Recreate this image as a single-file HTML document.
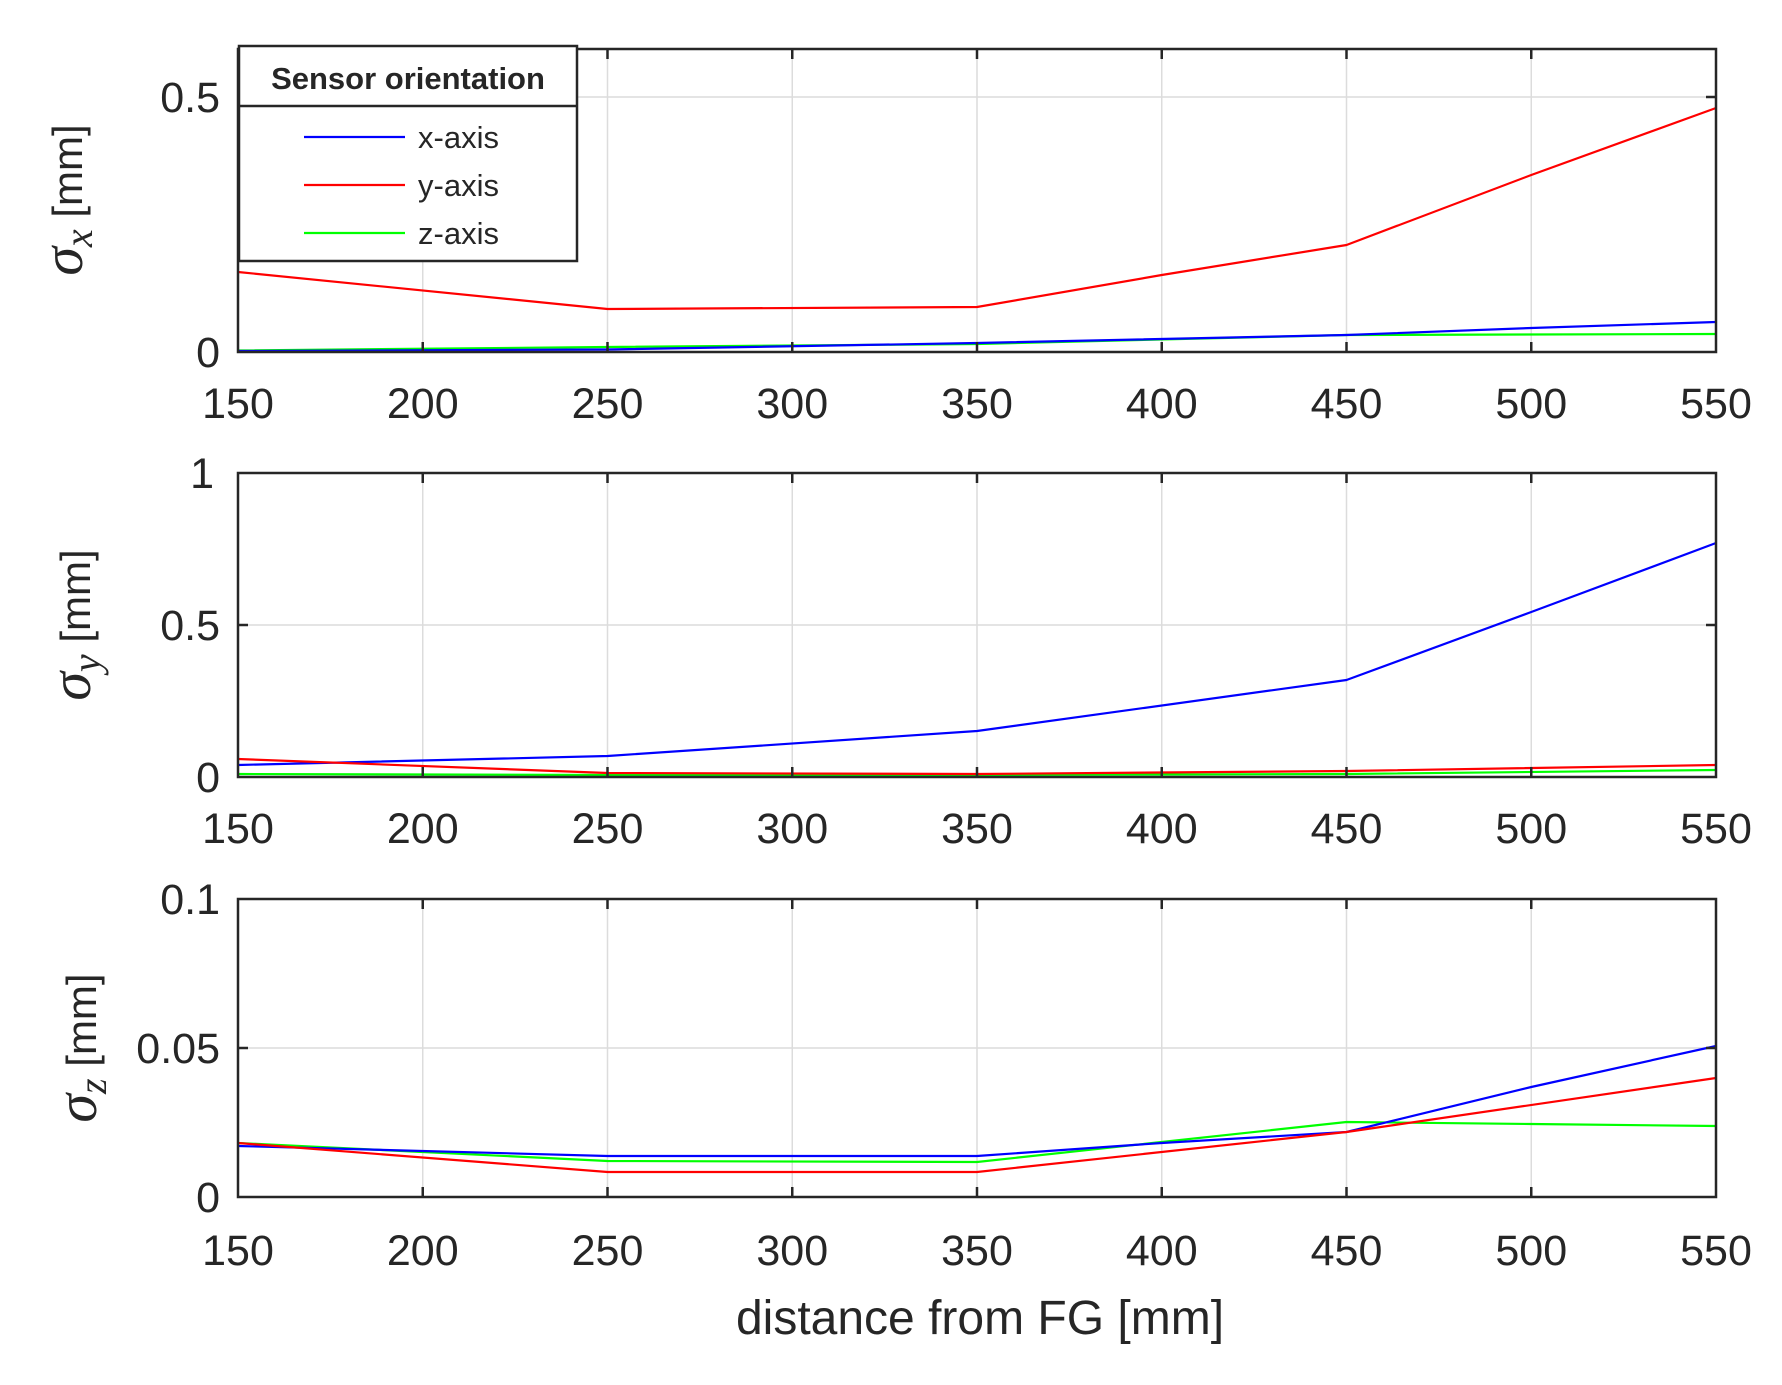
<!DOCTYPE html>
<html><head><meta charset="utf-8"><style>
html,body{margin:0;padding:0;background:#fff}
svg{display:block}
text{font-family:"Liberation Sans",sans-serif;fill:#262626}
</style></head><body>
<svg width="1782" height="1385" viewBox="0 0 1782 1385" xmlns="http://www.w3.org/2000/svg">
<!-- Panel 1 -->
<g>
<g stroke="#dcdcdc" stroke-width="1.5">
<line x1="422.75" y1="49" x2="422.75" y2="352"/><line x1="607.5" y1="49" x2="607.5" y2="352"/><line x1="792.25" y1="49" x2="792.25" y2="352"/><line x1="977" y1="49" x2="977" y2="352"/><line x1="1161.75" y1="49" x2="1161.75" y2="352"/><line x1="1346.5" y1="49" x2="1346.5" y2="352"/><line x1="1531.25" y1="49" x2="1531.25" y2="352"/>
<line x1="238" y1="97" x2="1716" y2="97"/>
</g>
<g fill="none" stroke-width="2.2" stroke-linejoin="round">
<polyline stroke="#00ff00" points="238,350.5 607.5,347 977,344 1346.5,335 1716,334"/>
<polyline stroke="#0000ff" points="238,351 607.5,349.5 977,343 1346.5,335 1531.25,328 1716,322"/>
<polyline stroke="#ff0000" points="238,272 607.5,309 977,307 1161.75,275 1346.5,245 1531.25,175 1716,108"/>
</g>
<g stroke="#262626" stroke-width="2.5">
<line x1="422.75" y1="352" x2="422.75" y2="342"/><line x1="607.5" y1="352" x2="607.5" y2="342"/><line x1="792.25" y1="352" x2="792.25" y2="342"/><line x1="977" y1="352" x2="977" y2="342"/><line x1="1161.75" y1="352" x2="1161.75" y2="342"/><line x1="1346.5" y1="352" x2="1346.5" y2="342"/><line x1="1531.25" y1="352" x2="1531.25" y2="342"/>
<line x1="607.5" y1="49" x2="607.5" y2="59"/><line x1="792.25" y1="49" x2="792.25" y2="59"/><line x1="977" y1="49" x2="977" y2="59"/><line x1="1161.75" y1="49" x2="1161.75" y2="59"/><line x1="1346.5" y1="49" x2="1346.5" y2="59"/><line x1="1531.25" y1="49" x2="1531.25" y2="59"/>
<line x1="1716" y1="97" x2="1706" y2="97"/><line x1="238" y1="97" x2="248" y2="97"/>
</g>
<rect x="238" y="49" width="1478" height="303" fill="none" stroke="#262626" stroke-width="2.5"/>
<g font-size="43" text-anchor="end"><text x="220" y="112">0.5</text><text x="220" y="367">0</text></g>
<g font-size="43" text-anchor="middle">
<text x="238" y="418">150</text><text x="422.75" y="418">200</text><text x="607.5" y="418">250</text><text x="792.25" y="418">300</text><text x="977" y="418">350</text><text x="1161.75" y="418">400</text><text x="1346.5" y="418">450</text><text x="1531.25" y="418">500</text><text x="1716" y="418">550</text>
</g>
<text transform="translate(82,200) rotate(-90)" font-size="42" text-anchor="middle"><tspan font-style="italic" font-family="Liberation Serif,serif" font-size="58">σ</tspan><tspan font-style="italic" font-family="Liberation Serif,serif" font-size="40" dy="10">x</tspan><tspan dy="-10">   [mm]</tspan></text>
<!-- legend -->
<rect x="239" y="46" width="338" height="215" fill="#fff" stroke="#262626" stroke-width="2.5"/>
<line x1="239" y1="106" x2="577" y2="106" stroke="#262626" stroke-width="2.5"/>
<text x="408" y="89" font-size="31" font-weight="bold" text-anchor="middle">Sensor orientation</text>
<line x1="304" y1="137" x2="405" y2="137" stroke="#0000ff" stroke-width="2.2"/>
<line x1="304" y1="185" x2="405" y2="185" stroke="#ff0000" stroke-width="2.2"/>
<line x1="304" y1="233" x2="405" y2="233" stroke="#00ff00" stroke-width="2.2"/>
<g font-size="31"><text x="418" y="148">x-axis</text><text x="418" y="196">y-axis</text><text x="418" y="244">z-axis</text></g>
</g>

<!-- Panel 2 -->
<g>
<g stroke="#dcdcdc" stroke-width="1.5">
<line x1="422.75" y1="473" x2="422.75" y2="777"/><line x1="607.5" y1="473" x2="607.5" y2="777"/><line x1="792.25" y1="473" x2="792.25" y2="777"/><line x1="977" y1="473" x2="977" y2="777"/><line x1="1161.75" y1="473" x2="1161.75" y2="777"/><line x1="1346.5" y1="473" x2="1346.5" y2="777"/><line x1="1531.25" y1="473" x2="1531.25" y2="777"/>
<line x1="238" y1="625" x2="1716" y2="625"/>
</g>
<g fill="none" stroke-width="2.2" stroke-linejoin="round">
<polyline stroke="#00ff00" points="238,774 607.5,775 977,775 1346.5,774 1716,770"/>
<polyline stroke="#0000ff" points="238,765 607.5,756 977,731 1346.5,680 1531.25,612 1716,543"/>
<polyline stroke="#ff0000" points="238,759 607.5,773 977,774 1346.5,771 1716,765"/>
</g>
<g stroke="#262626" stroke-width="2.5">
<line x1="422.75" y1="777" x2="422.75" y2="767"/><line x1="607.5" y1="777" x2="607.5" y2="767"/><line x1="792.25" y1="777" x2="792.25" y2="767"/><line x1="977" y1="777" x2="977" y2="767"/><line x1="1161.75" y1="777" x2="1161.75" y2="767"/><line x1="1346.5" y1="777" x2="1346.5" y2="767"/><line x1="1531.25" y1="777" x2="1531.25" y2="767"/>
<line x1="422.75" y1="473" x2="422.75" y2="483"/><line x1="607.5" y1="473" x2="607.5" y2="483"/><line x1="792.25" y1="473" x2="792.25" y2="483"/><line x1="977" y1="473" x2="977" y2="483"/><line x1="1161.75" y1="473" x2="1161.75" y2="483"/><line x1="1346.5" y1="473" x2="1346.5" y2="483"/><line x1="1531.25" y1="473" x2="1531.25" y2="483"/>
<line x1="238" y1="625" x2="248" y2="625"/><line x1="1716" y1="625" x2="1706" y2="625"/>
</g>
<rect x="238" y="473" width="1478" height="304" fill="none" stroke="#262626" stroke-width="2.5"/>
<g font-size="43" text-anchor="end"><text x="214" y="488">1</text><text x="220" y="640">0.5</text><text x="220" y="792">0</text></g>
<g font-size="43" text-anchor="middle">
<text x="238" y="843">150</text><text x="422.75" y="843">200</text><text x="607.5" y="843">250</text><text x="792.25" y="843">300</text><text x="977" y="843">350</text><text x="1161.75" y="843">400</text><text x="1346.5" y="843">450</text><text x="1531.25" y="843">500</text><text x="1716" y="843">550</text>
</g>
<text transform="translate(90,625) rotate(-90)" font-size="42" text-anchor="middle"><tspan font-style="italic" font-family="Liberation Serif,serif" font-size="58">σ</tspan><tspan font-style="italic" font-family="Liberation Serif,serif" font-size="40" dy="10">y</tspan><tspan dy="-10">  [mm]</tspan></text>
</g>

<!-- Panel 3 -->
<g>
<g stroke="#dcdcdc" stroke-width="1.5">
<line x1="422.75" y1="899" x2="422.75" y2="1197"/><line x1="607.5" y1="899" x2="607.5" y2="1197"/><line x1="792.25" y1="899" x2="792.25" y2="1197"/><line x1="977" y1="899" x2="977" y2="1197"/><line x1="1161.75" y1="899" x2="1161.75" y2="1197"/><line x1="1346.5" y1="899" x2="1346.5" y2="1197"/><line x1="1531.25" y1="899" x2="1531.25" y2="1197"/>
<line x1="238" y1="1048" x2="1716" y2="1048"/>
</g>
<g fill="none" stroke-width="2.2" stroke-linejoin="round">
<polyline stroke="#00ff00" points="238,1143 607.5,1161 977,1162 1346.5,1122 1531.25,1124 1716,1126"/>
<polyline stroke="#0000ff" points="238,1146 607.5,1156 977,1156 1161.75,1143 1346.5,1132 1531.25,1087 1716,1046"/>
<polyline stroke="#ff0000" points="238,1143 607.5,1172 977,1172 1346.5,1132 1716,1078"/>
</g>
<g stroke="#262626" stroke-width="2.5">
<line x1="422.75" y1="1197" x2="422.75" y2="1187"/><line x1="607.5" y1="1197" x2="607.5" y2="1187"/><line x1="792.25" y1="1197" x2="792.25" y2="1187"/><line x1="977" y1="1197" x2="977" y2="1187"/><line x1="1161.75" y1="1197" x2="1161.75" y2="1187"/><line x1="1346.5" y1="1197" x2="1346.5" y2="1187"/><line x1="1531.25" y1="1197" x2="1531.25" y2="1187"/>
<line x1="422.75" y1="899" x2="422.75" y2="909"/><line x1="607.5" y1="899" x2="607.5" y2="909"/><line x1="792.25" y1="899" x2="792.25" y2="909"/><line x1="977" y1="899" x2="977" y2="909"/><line x1="1161.75" y1="899" x2="1161.75" y2="909"/><line x1="1346.5" y1="899" x2="1346.5" y2="909"/><line x1="1531.25" y1="899" x2="1531.25" y2="909"/>
<line x1="238" y1="1048" x2="248" y2="1048"/><line x1="1716" y1="1048" x2="1706" y2="1048"/>
</g>
<rect x="238" y="899" width="1478" height="298" fill="none" stroke="#262626" stroke-width="2.5"/>
<g font-size="43" text-anchor="end"><text x="220" y="914">0.1</text><text x="220" y="1063">0.05</text><text x="220" y="1212">0</text></g>
<g font-size="43" text-anchor="middle">
<text x="238" y="1265">150</text><text x="422.75" y="1265">200</text><text x="607.5" y="1265">250</text><text x="792.25" y="1265">300</text><text x="977" y="1265">350</text><text x="1161.75" y="1265">400</text><text x="1346.5" y="1265">450</text><text x="1531.25" y="1265">500</text><text x="1716" y="1265">550</text>
</g>
<text transform="translate(96,1048) rotate(-90)" font-size="42" text-anchor="middle"><tspan font-style="italic" font-family="Liberation Serif,serif" font-size="58">σ</tspan><tspan font-style="italic" font-family="Liberation Serif,serif" font-size="40" dy="10">z</tspan><tspan dy="-10">   [mm]</tspan></text>
<text x="980" y="1334" font-size="48" text-anchor="middle">distance from FG [mm]</text>
</g>
</svg>
</body></html>
